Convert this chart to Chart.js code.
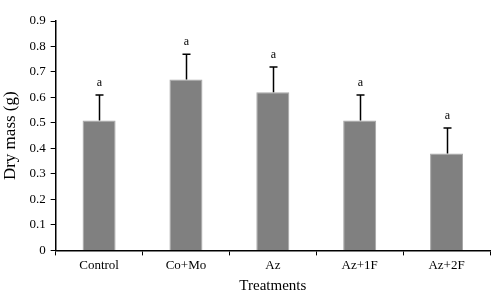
<!DOCTYPE html>
<html>
<head>
<meta charset="utf-8">
<script src="https://cdn.jsdelivr.net/npm/chart.js@4/dist/chart.umd.min.js"></script>
<style>
  html, body { margin: 0; padding: 0; background: #fff; }
  #wrap { width: 500px; height: 301px; }
</style>
</head>
<body>
<div id="wrap"><canvas id="chart"></canvas></div>
<script>
// values
const treatments = ['Control', 'Co+Mo', 'Az', 'Az+1F', 'Az+2F'];
const dryMass = [0.51, 0.67, 0.62, 0.51, 0.38];
const errUp = [0.10, 0.10, 0.10, 0.10, 0.10];
const letters = ['a', 'a', 'a', 'a', 'a'];
const yTicks = [0, 0.1, 0.2, 0.3, 0.4, 0.5, 0.6, 0.7, 0.8, 0.9];

const SERIF = "'Liberation Serif', 'Times New Roman', serif";
Chart.defaults.font.family = SERIF;
Chart.defaults.color = '#000';

// upward error bars + significance letters
const errorBars = {
  id: 'errorBars',
  afterDatasetsDraw(chart) {
    const { ctx, scales: { x, y } } = chart;
    ctx.save();
    ctx.strokeStyle = '#000';
    ctx.lineWidth = 1.5;
    ctx.fillStyle = '#000';
    ctx.font = '12px ' + SERIF;
    ctx.textAlign = 'center';
    ctx.textBaseline = 'alphabetic';
    dryMass.forEach((v, i) => {
      const cx = Math.round(x.getPixelForValue(i)) + 0.5;
      const y0 = y.getPixelForValue(v);
      const y1 = y.getPixelForValue(v + errUp[i]);
      ctx.beginPath();
      ctx.moveTo(cx, y0);
      ctx.lineTo(cx, y1);
      ctx.moveTo(cx - 4, y1);
      ctx.lineTo(cx + 4, y1);
      ctx.stroke();
      ctx.fillText(letters[i], cx, y1 - 9);
    });
    ctx.restore();
  }
};

new Chart(document.getElementById('chart'), {
  type: 'bar',
  data: {
    labels: treatments,
    datasets: [{
      data: dryMass,
      backgroundColor: '#808080',
      borderColor: '#a6a6a6',
      borderWidth: 1,
      barPercentage: 0.76,
      categoryPercentage: 0.5,
    }],
  },
  options: {
    responsive: true,
    maintainAspectRatio: false,
    animation: false,
    layout: { padding: { top: 21, right: 10, left: 0, bottom: 2 } },
    plugins: {
      legend: { display: false },
      tooltip: { enabled: false },
    },
    scales: {
      x: {
        offset: true,
        grid: {
          offset: true,
          drawOnChartArea: false,
          drawTicks: true,
          tickLength: 5,
          color: '#000',
        },
        border: { color: '#000', width: 1.5 },
        ticks: { font: { size: 13 }, padding: 2, color: '#000' },
        title: { display: true, text: 'Treatments', font: { size: 15 }, padding: { top: 2 } },
      },
      y: {
        min: 0,
        max: 0.9,
        afterBuildTicks: (axis) => { axis.ticks = yTicks.map((v) => ({ value: v })); },
        grid: {
          drawOnChartArea: false,
          tickLength: 5,
          color: '#000',
        },
        border: { color: '#000', width: 1.5 },
        ticks: {
          font: { size: 13 },
          padding: 5,
          color: '#000',
          callback: (v) => String(Math.round(v * 10) / 10),
        },
        title: { display: true, text: 'Dry mass (g)', font: { size: 17 }, padding: { top: 0, bottom: 4 } },
      },
    },
  },
  plugins: [errorBars],
});
</script>
</body>
</html>
